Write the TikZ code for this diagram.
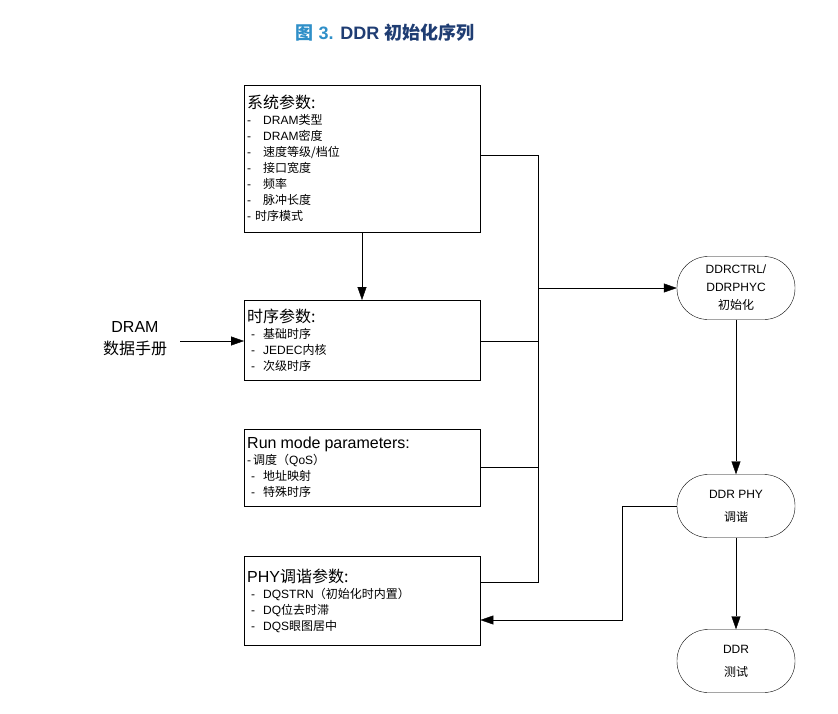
\documentclass[tikz,border=0pt]{standalone}
\usepackage{fontspec}
\setmainfont{Liberation Sans}
\newfontfamily\cjk{Noto Sans CJK SC}
\usetikzlibrary{arrows.meta}
\definecolor{titleblue}{HTML}{2F8FC8}
\definecolor{titlenavy}{HTML}{1F3D73}
\tikzstyle{param} = [rectangle, draw=black, anchor=north west, minimum width=236pt,
text width=230pt, align=left, inner sep=3pt, font=\fontsize{12}{16}\selectfont]
\tikzstyle{stage} = [rectangle, rounded corners=31pt, draw=black, minimum width=118pt,
minimum height=63pt, align=center, font=\fontsize{12}{18}\selectfont]
\tikzstyle{arrow} = [-{Triangle[length=13pt, width=9pt]}]
\newcommand{\hd}[1]{{\fontsize{16}{20}\selectfont #1}}

\begin{document}
\begin{tikzpicture}[x=1pt, y=-1pt]
\useasboundingbox (0,0) rectangle (838,713);

\node(title) at (385,33) {\bfseries\fontsize{18}{22}\selectfont\color{titleblue}{\cjk 图} 3. \color{titlenavy}DDR {\cjk 初始化序列}};

\node(sys)[param, minimum height=147pt] at (244,85) {\hd{\cjk 系统参数:}\\
-\quad DRAM{\cjk 类型}\\
-\quad DRAM{\cjk 密度}\\
-\quad {\cjk 速度等级/档位}\\
-\quad {\cjk 接口宽度}\\
-\quad {\cjk 频率}\\
-\quad {\cjk 脉冲长度}\\
-\ {\cjk 时序模式}};
\node(timing)[param, minimum height=80pt] at (244,300) {\hd{\cjk 时序参数:}\\
\ -\ \ {\cjk 基础时序}\\
\ -\ \ JEDEC{\cjk 内核}\\
\ -\ \ {\cjk 次级时序}};
\node(run)[param, minimum height=77pt] at (244,429) {\hd{Run mode parameters:}\\
-\,{\cjk 调度（}QoS{\cjk ）}\\
\ -\ \ {\cjk 地址映射}\\
\ -\ \ {\cjk 特殊时序}};
\node(phy)[param, minimum height=89pt] at (244,556) {\hd{PHY{\cjk 调谐参数:}}\\
\ -\ \ DQSTRN{\cjk （初始化时内置）}\\
\ -\ \ DQ{\cjk 位去时滞}\\
\ -\ \ DQS{\cjk 眼图居中}};

\node(sheet)[align=center, font=\fontsize{16}{22}\selectfont] at (135,339) {DRAM\\{\cjk 数据手册}};

\node(ctrl)[stage] at (736,288) {DDRCTRL/\\DDRPHYC\\{\cjk 初始化}};
\node(tune)[stage, font=\fontsize{12}{23}\selectfont] at (736,506) {DDR PHY\\{\cjk 调谐}};
\node(test)[stage, font=\fontsize{12}{23}\selectfont] at (736,661) {DDR\\{\cjk 测试}};

\coordinate(bus) at (538,288);

\draw(sys.east |- 0,155) -| (538,155) -- (538,582) -- (phy.east |- 0,582);
\draw(timing.east |- 0,341) -- (538,341);
\draw(run.east |- 0,467) -- (538,467);
\draw[arrow](bus) -- (ctrl);
\draw[arrow](sys.south -| 362,0) -- (timing.north -| 362,0);
\draw[arrow](180,341) -- (timing.west |- 0,341);
\draw[arrow](ctrl) -- (tune);
\draw[arrow](tune) -- (test);
\draw[arrow](tune.west) -| (622,620) -- (phy.east |- 0,620);

\end{tikzpicture}
\end{document}
